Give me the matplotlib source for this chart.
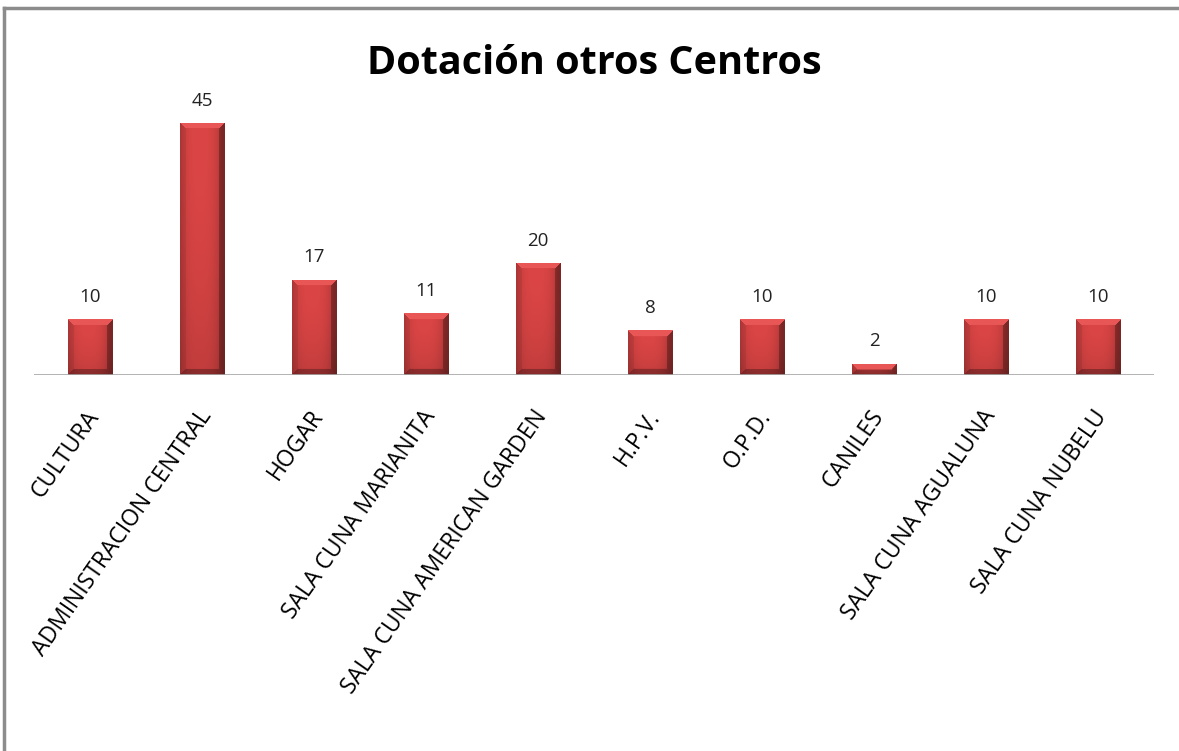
import numpy as np
import matplotlib
matplotlib.use("Agg")
import matplotlib.pyplot as plt
import matplotlib.transforms as mtransforms
from matplotlib.lines import Line2D

categories = ["CULTURA", "ADMINISTRACION CENTRAL", "HOGAR", "SALA CUNA MARIANITA",
              "SALA CUNA AMERICAN GARDEN", "H.P.V.", "O.P.D.", "CANILES",
              "SALA CUNA AGUALUNA", "SALA CUNA NUBELU"]
values = [10, 45, 17, 11, 20, 8, 10, 2, 10, 10]

plt.rcParams['font.family'] = ['Open Sans', 'DejaVu Sans']

fig = plt.figure(figsize=(11.79, 7.51), dpi=100)
# axes: x 34..1154 px, baseline y=375, top y=95
ax = fig.add_axes([34 / 1179, 1 - 375 / 751, 1120 / 1179, 280 / 751])
ax.set_xlim(-0.5, len(categories) - 0.5)
ax.set_ylim(0, 50)

x = np.arange(len(categories))
width = 0.4
bars = ax.bar(x, values, width=width, color="#cf3b3b", edgecolor="none", zorder=2)


def bar_image(h_px, w_px=45):
    # bevelled red bar look
    base = np.array([0.86, 0.27, 0.27])
    img = np.ones((h_px, w_px, 3)) * base
    u = np.linspace(0, 1, w_px)
    prof = 1 - 0.22 * np.clip(np.abs(u - 0.45) * 2, 0, 1) ** 3
    img *= prof[None, :, None]
    v = np.linspace(0, 1, h_px)
    img *= (1 - 0.12 * v ** 2)[:, None, None]
    bev = 6
    for r in range(h_px):
        for c in range(w_px):
            if r < bev and c >= r and c < w_px - r:
                img[r, c] = np.array([0.91, 0.34, 0.34])
            elif r >= h_px - bev and (h_px - 1 - r) <= c < w_px - (h_px - 1 - r):
                img[r, c] *= 0.72
            elif c < bev and r >= c:
                img[r, c] *= 0.93
            elif c >= w_px - bev and r >= (w_px - 1 - c):
                img[r, c] *= 0.72
    return np.clip(img, 0, 1)


for b, v in zip(bars, values):
    h_px = max(int(v * 5.6), 8)
    im = ax.imshow(bar_image(h_px), extent=(b.get_x(), b.get_x() + b.get_width(), 0, v),
                   aspect="auto", interpolation="bilinear", zorder=3)
    im.set_clip_path(b)
    ax.text(b.get_x() + b.get_width() / 2, v + 2.4, str(v), ha="center", va="bottom",
            fontsize=13.5, color="#222222")

ax.axhline(0, color="#a6a6a6", lw=1.2, zorder=4)

for spine in ax.spines.values():
    spine.set_visible(False)
ax.set_yticks([])
ax.set_xticks(x)
ax.set_xticklabels(categories, rotation=55, ha="right", va="top",
                   rotation_mode="anchor", fontsize=16.5)
ax.tick_params(axis="x", length=0, pad=22)
shift = mtransforms.ScaledTranslation(-5 / 100, 0, fig.dpi_scale_trans)
for lbl in ax.get_xticklabels():
    lbl.set_transform(lbl.get_transform() + shift)

fig.text(594 / 1179, 1 - 64 / 751, "Dotación otros Centros", ha="center", va="center",
         fontsize=28.5, fontweight="bold")

# chart frame (only top and left visible)
fig.add_artist(Line2D([4 / 1179, 4 / 1179], [0, 1 - 8 / 751], color="#8c8c8c", lw=2.5,
                      transform=fig.transFigure))
fig.add_artist(Line2D([4 / 1179, 1], [1 - 8 / 751, 1 - 8 / 751], color="#8c8c8c", lw=2.5,
                      transform=fig.transFigure))

fig.savefig("out.png", dpi=100)
